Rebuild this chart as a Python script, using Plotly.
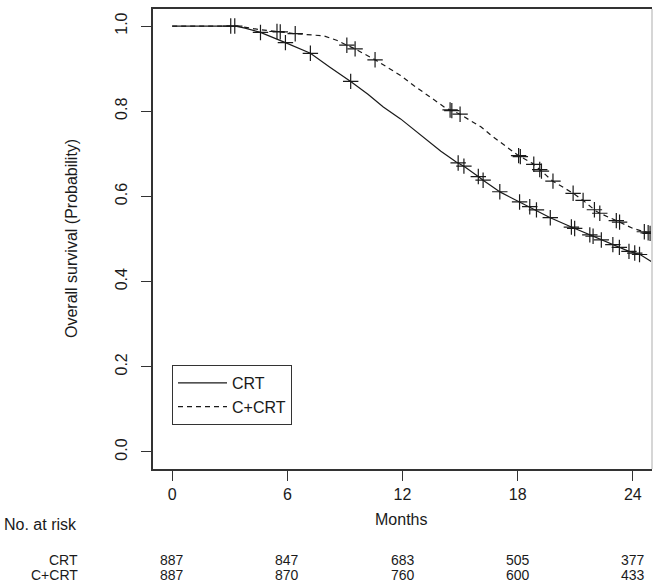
import numpy as np
import plotly.graph_objects as go

# ---- data ----
series_names = ["CRT", "C+CRT"]

crt_t = [0, 3.3, 3.8, 4.6, 5.9, 7.2, 8.2, 9.3, 10.2, 11.0, 11.9, 13.0, 14.0, 14.8, 15.2,
         16.0, 16.2, 17.1, 18.1, 19.0, 19.7, 20.8, 21.8, 22.4, 23.0, 23.8, 24.4, 25.0]
crt_s = [1.0, 1.0, 0.995, 0.985, 0.961, 0.936, 0.904, 0.870, 0.840, 0.810, 0.782, 0.742, 0.706,
         0.681, 0.671, 0.645, 0.638, 0.610, 0.587, 0.568, 0.550, 0.528, 0.509, 0.497, 0.486,
         0.471, 0.463, 0.446]

cc_t = [0, 3.4, 4.5, 5.5, 6.4, 7.9, 8.6, 9.1, 9.5, 10.6, 11.2, 11.9, 12.6, 13.3, 14.3, 14.6,
        15.0, 15.5, 16.1, 16.6, 17.1, 17.6, 18.0, 18.8, 19.2, 19.8, 20.9, 21.4, 22.1, 22.3,
        23.2, 24.0, 24.6, 25.0]
cc_s = [1.0, 1.0, 0.992, 0.987, 0.982, 0.977, 0.966, 0.955, 0.947, 0.920, 0.903, 0.884, 0.860,
        0.837, 0.806, 0.801, 0.793, 0.779, 0.763, 0.744, 0.727, 0.709, 0.697, 0.677, 0.661,
        0.637, 0.607, 0.591, 0.565, 0.560, 0.542, 0.525, 0.517, 0.512]

crt_cens = [3.05, 4.6, 5.9, 7.2, 9.3, 14.9, 15.2, 15.95, 16.2, 17.07, 18.1, 18.63, 18.98, 19.7,
            20.8, 20.97, 21.76, 21.93, 22.36, 22.96, 23.3, 23.8, 24.1, 24.35]
cc_cens = [3.26, 5.46, 5.63, 6.41, 9.1, 9.53, 10.57, 14.48, 14.57, 15.0, 18.05, 18.14, 18.84,
           19.15, 19.24, 19.84, 20.89, 21.41, 22.0, 22.28, 23.14, 23.31, 24.6, 24.8, 24.9]

risk_times = [0, 6, 12, 18, 24]
crt_risk = [887, 847, 683, 505, 377]
cc_risk = [887, 870, 760, 600, 433]

y_ticks = [0.0, 0.2, 0.4, 0.6, 0.8, 1.0]
y_ticklabels = ["0.0", "0.2", "0.4", "0.6", "0.8", "1.0"]

# ---- figure ----
FONT = "Liberation Sans, Arial, Helvetica, sans-serif"
INK = "#1a1a1a"
W, H = 660, 583
ML, MR, MT, MB = 153, 8, 9, 114
PW, PH = W - ML - MR, H - MT - MB

def px_x(px):
    return (px - ML) / PW

def px_y(py):
    return (H - MB - py) / PH

fig = go.Figure()

fig.add_trace(go.Scatter(x=crt_t, y=crt_s, mode="lines", name=series_names[0],
                         line=dict(color=INK, width=1.2)))
fig.add_trace(go.Scatter(x=cc_t, y=cc_s, mode="lines", name=series_names[1],
                         line=dict(color=INK, width=1.2, dash="5px,4px")))

for ct, tt, ss in [(crt_cens, crt_t, crt_s), (cc_cens, cc_t, cc_s)]:
    fig.add_trace(go.Scatter(x=ct, y=np.interp(ct, tt, ss), mode="markers",
                             showlegend=False, hoverinfo="skip",
                             marker=dict(symbol="cross-thin-open", size=11, color=INK,
                                         line=dict(color=INK, width=1.2))))

axis_common = dict(showgrid=False, zeroline=False, ticks="outside", ticklen=10,
                   tickwidth=1, tickcolor="#333", showline=True, linecolor="#333",
                   linewidth=1.5, tickfont=dict(family=FONT, size=16, color=INK))

fig.update_xaxes(range=[-1, 25], tickvals=risk_times, ticktext=[str(v) for v in risk_times],
                 mirror=True, **axis_common)
fig.update_yaxes(range=[-0.04, 1.04], tickvals=y_ticks, ticktext=y_ticklabels,
                 tickangle=-90, ticklabelstandoff=8, **axis_common)

# right edge of the (cropped) frame
fig.add_shape(type="line", xref="paper", yref="paper", x0=1, x1=1, y0=0, y1=1,
              line=dict(color="#d6d6d6", width=2))

txt = dict(family=FONT, size=16, color=INK)
ann = []
ann.append(dict(text="Months", x=px_x(401), y=px_y(519), xref="paper", yref="paper",
                xanchor="center", yanchor="middle", showarrow=False, font=txt))
ann.append(dict(text="Overall survival (Probability)", x=px_x(71), y=0.5, textangle=-90,
                xref="paper", yref="paper", xanchor="center", yanchor="middle",
                showarrow=False, font=txt))
ann.append(dict(text="No. at risk", x=px_x(79), y=px_y(524), xref="paper", yref="paper",
                xanchor="right", yanchor="middle", showarrow=False, font=txt))
row_font = dict(family=FONT, size=14, color=INK)
for name, vals, ypx in [(series_names[0], crt_risk, 559.5), (series_names[1], cc_risk, 575)]:
    ann.append(dict(text=name, x=px_x(79), y=px_y(ypx), xref="paper", yref="paper",
                    xanchor="right", yanchor="middle", showarrow=False, font=row_font,
                    borderpad=0))
    for t, v in zip(risk_times, vals):
        ann.append(dict(text=str(v), x=t, y=px_y(ypx), xref="x", yref="paper",
                        xanchor="center", yanchor="middle", showarrow=False, font=row_font,
                        borderpad=0))

fig.update_layout(
    width=W, height=H, margin=dict(l=ML, r=MR, t=MT, b=MB, autoexpand=False),
    paper_bgcolor="white", plot_bgcolor="white",
    annotations=ann,
    showlegend=True,
    legend=dict(x=px_x(172), y=px_y(365), xanchor="left", yanchor="top",
                bordercolor="#333", borderwidth=1, bgcolor="white",
                font=dict(family=FONT, size=16, color=INK), itemwidth=49,
                tracegroupgap=0),
)

fig.write_html("out.html", config={"displayModeBar": False},
               post_script="document.body.style.margin='0';")
